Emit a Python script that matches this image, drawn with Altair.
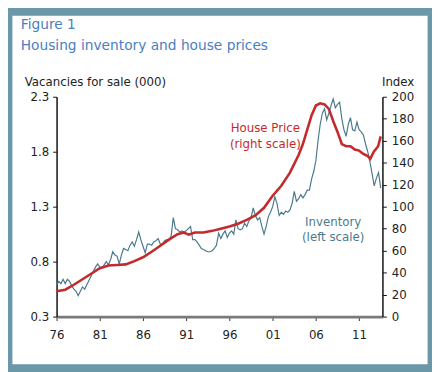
import altair as alt
import pandas as pd

# ---- data ----
inv_years = [
    1976.0, 1976.25, 1976.5, 1976.75, 1977.0, 1977.25, 1977.5, 1977.75,
    1978.0, 1978.25, 1978.5, 1978.75, 1979.0, 1979.25, 1979.5, 1979.75,
    1980.0, 1980.25, 1980.5, 1980.75, 1981.0, 1981.25, 1981.5, 1981.75,
    1982.0, 1982.25, 1982.5, 1982.75, 1983.0, 1983.25, 1983.5, 1983.75,
    1984.0, 1984.25, 1984.5, 1984.75, 1985.0, 1985.25, 1985.5, 1985.75,
    1986.0, 1986.25, 1986.5, 1986.75, 1987.0, 1987.25, 1987.5, 1987.75,
    1988.0, 1988.25, 1988.5, 1988.75, 1989.0, 1989.25, 1989.5, 1989.75,
    1990.0, 1990.25, 1990.5, 1990.75, 1991.0, 1991.25, 1991.5, 1991.75,
    1992.0, 1992.25, 1992.5, 1992.75, 1993.0, 1993.25, 1993.5, 1993.75,
    1994.0, 1994.25, 1994.5, 1994.75, 1995.0, 1995.25, 1995.5, 1995.75,
    1996.0, 1996.25, 1996.5, 1996.75, 1997.0, 1997.25, 1997.5, 1997.75,
    1998.0, 1998.25, 1998.5, 1998.75, 1999.0, 1999.25, 1999.5, 1999.75,
    2000.0, 2000.25, 2000.5, 2000.75, 2001.0, 2001.25, 2001.5, 2001.75,
    2002.0, 2002.25, 2002.5, 2002.75, 2003.0, 2003.25, 2003.5, 2003.75,
    2004.0, 2004.25, 2004.5, 2004.75, 2005.0, 2005.25, 2005.5, 2005.75,
    2006.0, 2006.25, 2006.5, 2006.75, 2007.0, 2007.25, 2007.5, 2007.75,
    2008.0, 2008.25, 2008.5, 2008.75, 2009.0, 2009.25, 2009.5, 2009.75,
    2010.0, 2010.25, 2010.5, 2010.75, 2011.0, 2011.25, 2011.5, 2011.75,
    2012.0, 2012.25, 2012.5, 2012.75, 2013.0, 2013.25, 2013.5,
]
inv_values = [
    0.59, 0.62, 0.60, 0.64, 0.60, 0.64, 0.62, 0.58,
    0.55, 0.53, 0.49, 0.53, 0.57, 0.55, 0.59, 0.63,
    0.67, 0.71, 0.75, 0.78, 0.75, 0.74, 0.77, 0.80,
    0.77, 0.82, 0.89, 0.86, 0.85, 0.78, 0.86, 0.92,
    0.91, 0.90, 0.95, 0.98, 0.94, 1.00, 1.07, 1.00,
    0.94, 0.88, 0.96, 0.96, 0.95, 0.98, 0.99, 1.01,
    0.96, 0.96, 0.99, 1.00, 1.00, 1.03, 1.20, 1.10,
    1.09, 1.07, 1.08, 1.07, 1.08, 1.10, 1.12, 1.00,
    1.00, 0.98, 0.95, 0.92, 0.91, 0.90, 0.89, 0.89,
    0.90, 0.92, 0.95, 1.06, 1.01, 1.05, 1.08, 1.02,
    1.06, 1.08, 1.05, 1.18, 1.10, 1.09, 1.10, 1.15,
    1.12, 1.17, 1.20, 1.29, 1.22, 1.18, 1.20, 1.12,
    1.05, 1.12, 1.21, 1.25, 1.30, 1.39, 1.33, 1.22,
    1.25, 1.23, 1.26, 1.25, 1.27, 1.33, 1.44, 1.35,
    1.37, 1.41, 1.38, 1.41, 1.45, 1.45, 1.55, 1.62,
    1.72, 1.90, 2.05, 2.15, 2.19, 2.09, 2.15, 2.22,
    2.28, 2.20, 2.23, 2.25, 2.10, 2.00, 1.94, 2.05,
    2.11, 2.00, 1.99, 2.07, 2.00, 1.98, 1.95, 1.87,
    1.80, 1.71, 1.60, 1.49, 1.56, 1.61, 1.47,
]

price_years = [
    1976.0, 1977.0, 1978.0, 1979.0, 1980.0, 1981.0, 1982.0, 1983.0,
    1984.0, 1985.0, 1986.0, 1987.0, 1988.0, 1989.0, 1990.0, 1990.7,
    1991.3, 1992.0, 1993.0, 1994.0, 1995.0, 1996.0, 1997.0, 1998.0,
    1999.0, 2000.0, 2001.0, 2002.0, 2003.0, 2004.0, 2004.5, 2005.0,
    2005.5, 2006.0, 2006.5, 2007.0, 2007.5, 2008.0, 2008.5, 2009.0,
    2009.5, 2010.0, 2010.5, 2011.0, 2011.5, 2012.0, 2012.3, 2012.7,
    2013.0, 2013.2, 2013.5,
]
price_values = [
    23, 24.5, 29, 34, 39, 44, 46.5, 47,
    47.5, 50.5, 54, 59, 64.5, 70, 75, 76.5,
    74.5, 76.5, 76.5, 78, 80, 82, 84.5, 88,
    92, 99, 110, 119, 131, 147, 157, 170,
    183, 192, 194, 193, 189, 178, 168, 157,
    155, 155, 152, 151, 148, 146, 143.5, 150,
    153, 155, 164,
]

x_ticks = [1976, 1981, 1986, 1991, 1996, 2001, 2006, 2011]
left_ticks = [0.3, 0.8, 1.3, 1.8, 2.3]
right_ticks = [0, 20, 40, 60, 80, 100, 120, 140, 160, 180, 200]

inv_df = pd.DataFrame({"year": inv_years, "inventory": inv_values})
price_df = pd.DataFrame({"year": price_years, "price": price_values})

FONT = "DejaVu Sans"
BLUE = "#4a7a8d"
RED = "#c4292b"
TITLE_BLUE = "#4a80c2"
FRAME = "#6a98a8"

W, H = 332, 224
PAD = {"left": 49.5, "top": 87, "right": 50.5, "bottom": 53}

x_scale = alt.Scale(domain=[1976, 2013.7], nice=False, zero=False)
left_scale = alt.Scale(domain=[0.3, 2.3], nice=False, zero=False)
right_scale = alt.Scale(domain=[0, 200], nice=False, zero=True)

x_axis = alt.Axis(values=x_ticks, format="d", labelExpr="substring(datum.label, 2)",
                  domainColor="#7a7a7a", domainWidth=3, tickColor="#333333",
                  tickSize=4, labelPadding=9, labelFontSize=12, labelFont=FONT,
                  labelColor="#222222", grid=False, labelFlush=False, title=None)


def xe():
    return alt.X("year:Q", scale=x_scale, axis=x_axis, title=None)


inv_line = alt.Chart(inv_df).mark_line(color=BLUE, strokeWidth=1.2).encode(
    x=xe(),
    y=alt.Y("inventory:Q", scale=left_scale,
            axis=alt.Axis(orient="left", values=left_ticks, format=".1f",
                          title="Vacancies for sale (000)", titleAngle=0,
                          titleX=-33, titleY=-15, titleAlign="left",
                          titleBaseline="middle", titleFont=FONT,
                          titleFontSize=12, titleFontWeight="normal",
                          titleColor="#222222",
                          domainColor="#111111", domainWidth=1.5,
                          tickColor="#111111", tickSize=4, labelPadding=4,
                          labelFontSize=12, labelFont=FONT,
                          labelColor="#222222", grid=False)),
)

price_line = alt.Chart(price_df).mark_line(color=RED, strokeWidth=2.6).encode(
    x=xe(),
    y=alt.Y("price:Q", scale=right_scale,
            axis=alt.Axis(orient="right", values=right_ticks, format="d",
                          title="Index", titleAngle=0,
                          titleX=32, titleY=-15, titleAlign="right",
                          titleBaseline="middle", titleFont=FONT,
                          titleFontSize=12, titleFontWeight="normal",
                          titleColor="#222222",
                          domainColor="#111111", domainWidth=1.5,
                          tickColor="#111111", tickSize=4, labelPadding=5,
                          labelFontSize=12, labelFont=FONT,
                          labelColor="#222222", grid=False)),
)

# annotation labels in data coordinates
inv_lab = pd.DataFrame({"year": [2008.0, 2008.0], "val": [1.16, 1.02],
                        "txt": ["Inventory", "(left scale)"]})
price_lab = pd.DataFrame({"year": [2000.15, 2000.15], "val": [171.4, 157.1],
                          "txt": ["House Price", "(right scale)"]})

inv_text = alt.Chart(inv_lab).mark_text(
    font=FONT, fontSize=12, color=BLUE, align="center", baseline="middle"
).encode(
    x=xe(),
    y=alt.Y("val:Q", scale=left_scale, axis=None),
    text="txt:N",
)
price_text = alt.Chart(price_lab).mark_text(
    font=FONT, fontSize=12, color=RED, align="center", baseline="middle"
).encode(
    x=xe(),
    y=alt.Y("val:Q", scale=right_scale, axis=None),
    text="txt:N",
)

title1 = alt.Chart(alt.Data(values=[{"t": "Figure 1"}])).mark_text(
    font=FONT, fontSize=14, color=TITLE_BLUE, align="left", baseline="middle"
).encode(x=alt.value(-36.5), y=alt.value(-73), text="t:N")
title2 = alt.Chart(alt.Data(values=[{"t": "Housing inventory and house prices"}])).mark_text(
    font=FONT, fontSize=14, color=TITLE_BLUE, align="left", baseline="middle"
).encode(x=alt.value(-36.5), y=alt.value(-51.5), text="t:N")

frame = alt.Chart(alt.Data(values=[{}])).mark_rect(
    fillOpacity=0, fill="white", stroke=FRAME, strokeWidth=9
).encode(
    x=alt.value(-PAD["left"]), x2=alt.value(W + PAD["right"]),
    y=alt.value(-PAD["top"]), y2=alt.value(H + PAD["bottom"]),
)

chart = alt.layer(
    frame, inv_line, price_line, inv_text, price_text, title1, title2
).resolve_scale(y="independent").properties(
    width=W, height=H,
    autosize=alt.AutoSizeParams(type="none"),
    padding=PAD,
    background="white",
).configure_view(stroke=None)

chart.save("out.html", embed_options={"renderer": "svg", "actions": False})
